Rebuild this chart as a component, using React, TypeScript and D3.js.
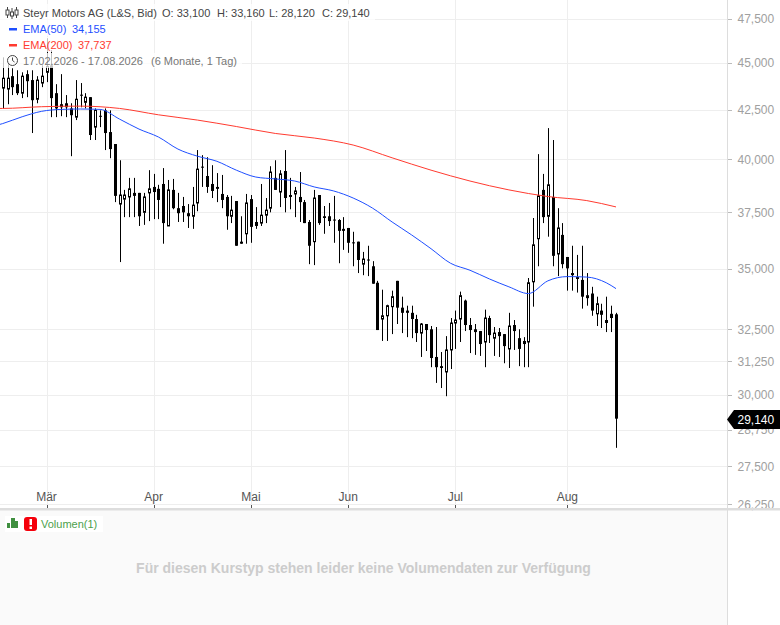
import React, { useEffect, useRef } from 'react';
import * as d3 from 'd3';

// Steyr Motors AG, daily candles 17.02.2026 - 17.08.2026
const opens = [
  43.63, 43.58, 44.27, 43.84, 43.36, 44.38, 44.06, 43.04, 43.9, 44.48,
  44.86, 43.36, 42.78, 42.83, 42.56, 42.11, 43.28, 42.88, 43.15, 41.6,
  42.18, 42.46, 41.35, 40.75, 37.87, 38.1, 38.2, 38.39, 38.39, 37.49,
  38.39, 38.67, 38.58, 38.81, 36.87, 38.53, 37.68, 37.78, 37.45, 37.31,
  37.92, 39.64, 39.19, 38.81, 38.67, 38.34, 38.2, 37.31, 38.01, 36.17,
  36.52, 38.1, 37.05, 37.0, 37.36, 37.68, 39.1, 38.43, 39.43, 38.29,
  38.34, 38.2, 37.96, 37.05, 36.17, 38.29, 37.31, 37.31, 37.16, 37.14,
  36.74, 36.78, 36.14, 36.17, 35.19, 35.39, 35.1, 34.4, 32.91, 33.04,
  33.41, 34.48, 33.37, 33.25, 33.16, 32.91, 32.35, 32.71, 32.5, 31.42,
  31.07, 30.85, 31.69, 32.75, 32.91, 33.66, 32.67, 32.5, 32.43, 32.0,
  32.95, 32.15, 32.39, 32.31, 31.73, 32.67, 32.15, 32.04, 32.0, 34.44,
  36.3, 38.53, 37.31, 38.2, 35.63, 36.47, 35.5, 34.81, 34.64, 34.52,
  33.78, 33.95, 33.12, 33.25, 32.87, 33.12, 33.1,
];
const highs = [
  45.3, 44.96, 44.7, 44.59, 44.48, 44.59, 44.59, 44.27, 44.86, 46.37,
  45.7, 43.84, 44.38, 43.26, 42.83, 44.06, 43.9, 43.36, 43.15, 42.56,
  42.46, 42.56, 42.46, 40.75, 39.95, 38.53, 39.1, 39.1, 38.39, 38.39,
  39.47, 39.29, 38.77, 39.57, 39.0, 39.05, 38.39, 38.2, 37.87, 38.67,
  40.45, 40.2, 40.1, 39.71, 39.33, 39.24, 38.29, 38.25, 38.01, 37.31,
  38.34, 38.29, 37.73, 38.81, 38.15, 39.66, 39.95, 39.47, 40.45, 39.1,
  38.67, 39.38, 38.06, 37.14, 38.53, 38.29, 37.78, 37.92, 38.25, 37.18,
  37.27, 36.78, 36.61, 36.17, 35.72, 35.99, 35.32, 34.48, 34.11, 33.49,
  34.07, 34.48, 33.82, 33.45, 33.45, 33.08, 32.75, 32.71, 32.63, 32.59,
  31.61, 32.23, 32.95, 33.25, 34.03, 33.7, 32.95, 32.71, 32.43, 33.29,
  33.04, 32.59, 32.55, 32.31, 33.16, 32.87, 32.5, 32.19, 34.6, 37.23,
  40.25, 39.29, 41.55, 40.95, 37.68, 37.0, 35.5, 35.99, 35.59, 35.99,
  34.81, 34.23, 33.82, 33.53, 33.82, 33.45, 33.16,
];
const lows = [
  42.56, 42.78, 43.26, 43.26, 43.1, 43.15, 41.3, 42.83, 43.68, 43.95,
  42.11, 42.11, 42.16, 42.11, 40.15, 41.96, 42.62, 42.56, 40.95, 40.95,
  41.6, 40.45, 40.05, 37.96, 35.28, 37.27, 37.27, 37.27, 36.87, 36.92,
  37.09, 37.18, 37.18, 36.08, 36.87, 37.63, 37.05, 37.05, 36.78, 36.74,
  37.54, 38.67, 38.39, 38.15, 37.96, 37.68, 36.7, 37.0, 35.99, 36.08,
  36.08, 36.12, 36.74, 36.87, 37.0, 37.49, 38.53, 37.73, 37.49, 37.63,
  37.27, 37.05, 37.0, 35.19, 35.15, 36.92, 36.52, 36.87, 36.12, 35.23,
  35.81, 35.68, 35.1, 34.81, 34.72, 34.68, 34.36, 32.47, 32.04, 32.04,
  32.31, 32.71, 32.35, 32.19, 32.15, 32.0, 31.42, 31.65, 31.03, 30.44,
  30.25, 29.95, 30.96, 31.73, 32.0, 32.43, 31.57, 31.5, 31.46, 31.03,
  31.96, 31.46, 31.42, 31.18, 31.0, 31.69, 31.07, 31.03, 31.03, 33.41,
  35.1, 37.0, 36.39, 35.1, 34.68, 35.01, 34.07, 34.07, 33.99, 33.33,
  33.45, 33.04, 32.63, 32.55, 32.39, 32.39, 28.12,
];
const closes = [
  44.16, 44.16, 43.68, 43.36, 44.27, 44.0, 42.99, 44.06, 44.27, 44.8,
  43.1, 42.56, 42.62, 42.62, 42.21, 43.04, 43.24, 43.15, 41.2, 42.46,
  42.14, 41.3, 40.5, 38.25, 38.29, 38.29, 38.58, 38.25, 37.31, 38.2,
  38.58, 38.43, 38.06, 37.0, 38.53, 37.68, 37.45, 37.49, 37.31, 37.82,
  39.52, 39.6, 38.67, 38.48, 38.58, 38.06, 37.31, 37.59, 35.99, 36.08,
  37.92, 36.83, 36.87, 37.36, 37.59, 39.38, 38.53, 39.29, 38.15, 38.2,
  38.48, 37.96, 37.0, 35.99, 38.15, 37.0, 37.23, 37.09, 37.12, 36.65,
  36.65, 36.12, 36.1, 35.37, 35.41, 35.35, 34.36, 32.47, 33.04, 33.45,
  33.82, 33.37, 33.16, 33.16, 32.91, 32.35, 32.71, 32.47, 31.38, 31.03,
  31.0, 31.69, 32.75, 32.87, 33.86, 32.67, 32.47, 32.39, 31.92, 32.95,
  32.27, 32.35, 32.23, 31.84, 32.63, 32.43, 31.73, 31.92, 34.4, 36.03,
  38.25, 37.27, 38.77, 35.55, 36.78, 35.19, 35.01, 34.72, 34.56, 33.82,
  33.86, 33.25, 33.53, 33.08, 32.75, 32.95, 29.14,
];

const ema50Sessions = [-1, 0, 4, 8, 12, 16, 20, 24, 28, 32, 36, 40, 44, 48, 52, 56, 60, 64, 68, 72, 76, 80, 84, 88, 92, 96, 100, 104, 108, 112, 116, 120, 124, 126];
const ema50Values = [41.71, 41.78, 42.13, 42.41, 42.51, 42.53, 42.51, 42.01, 41.5, 41.1, 40.5, 40.15, 39.9, 39.47, 39.14, 39.05, 38.95, 38.67, 38.48, 38.15, 37.68, 37.05, 36.47, 35.86, 35.23, 34.93, 34.56, 34.23, 33.95, 34.48, 34.66, 34.64, 34.4, 34.155];
const ema200Sessions = [-1, 0, 8, 16, 24, 32, 40, 48, 56, 64, 72, 80, 88, 96, 104, 112, 120, 126];
const ema200Values = [42.56, 42.56, 42.65, 42.68, 42.56, 42.23, 41.96, 41.63, 41.28, 41.05, 40.7, 40.07, 39.47, 38.95, 38.53, 38.22, 38.03, 37.737];

const priceTicks = [47.5, 45, 42.5, 40, 37.5, 35, 32.5, 31.25, 30, 28.75, 27.5, 26.25];
const monthLabels = ['Mär', 'Apr', 'Mai', 'Jun', 'Jul', 'Aug'];
const monthSessions = [9, 31, 51, 71, 93, 116];

const WIDTH = 780;
const HEIGHT = 625;
const PLOT_RIGHT = 727;
const PANE_BOTTOM = 508;
const FONT = '"Liberation Sans", Arial, sans-serif';
const GRID = '#eeeeee';
const BLUE = '#1f4fff';
const RED = '#ff3b30';

const de = d3.formatLocale({ decimal: ',', thousands: '.', grouping: [3], currency: ['', '€'] });
const fmt = de.format('.3f');

export default function App() {
  const ref = useRef<SVGSVGElement>(null);

  useEffect(() => {
    const { current: dom } = ref;
    if (!dom) {
      return;
    }
    const svg = d3.select(dom);
    svg.selectAll('*').remove();

    const x = d3.scaleLinear().domain([0, 126]).range([2.7, 616]);
    const y = d3.scaleLog().domain([47.5, 26.25]).range([18.5, 504.2]);
    const crisp = (v: number) => Math.round(v) + 0.5;

    svg.append('clipPath').attr('id', 'plot').append('rect')
      .attr('width', PLOT_RIGHT).attr('height', PANE_BOTTOM);

    // lower pane
    svg.append('rect').attr('x', 0).attr('y', PANE_BOTTOM).attr('width', PLOT_RIGHT)
      .attr('height', HEIGHT - PANE_BOTTOM).attr('fill', '#fafafa');

    // grid
    const grid = svg.append('g').attr('stroke', GRID).attr('stroke-width', 1);
    grid.selectAll('line.h').data(priceTicks).join('line').attr('class', 'h')
      .attr('x1', 0).attr('x2', PLOT_RIGHT)
      .attr('y1', (d) => crisp(y(d))).attr('y2', (d) => crisp(y(d)));
    grid.selectAll('line.v').data(monthSessions).join('line').attr('class', 'v')
      .attr('y1', 0).attr('y2', PANE_BOTTOM)
      .attr('x1', (d) => crisp(x(d))).attr('x2', (d) => crisp(x(d)));

    // candles
    const plot = svg.append('g').attr('clip-path', 'url(#plot)');
    const candles = plot.selectAll('g.c').data(d3.range(opens.length)).join('g').attr('class', 'c');
    candles.append('line')
      .attr('x1', (i) => crisp(x(i))).attr('x2', (i) => crisp(x(i)))
      .attr('y1', (i) => y(highs[i])).attr('y2', (i) => y(lows[i]))
      .attr('stroke', '#000');
    candles.append('rect')
      .attr('x', (i) => crisp(x(i)) - (closes[i] < opens[i] ? 1.5 : 1))
      .attr('width', (i) => (closes[i] < opens[i] ? 3 : 2))
      .attr('y', (i) => y(Math.max(opens[i], closes[i])))
      .attr('height', (i) => Math.max(1, Math.abs(y(opens[i]) - y(closes[i]))))
      .attr('fill', (i) => (closes[i] < opens[i] ? '#000' : '#fff'))
      .attr('stroke', (i) => (closes[i] < opens[i] ? 'none' : '#000'));

    // EMAs
    const line = d3.line<number>().x((d) => x(d[0])).y((d) => y(d[1])).curve(d3.curveMonotoneX);
    plot.append('path').datum(d3.zip(ema200Sessions, ema200Values) as any)
      .attr('d', line as any).attr('fill', 'none').attr('stroke', RED).attr('stroke-width', 1);
    plot.append('path').datum(d3.zip(ema50Sessions, ema50Values) as any)
      .attr('d', line as any).attr('fill', 'none').attr('stroke', BLUE).attr('stroke-width', 1);

    // price axis
    svg.append('line').attr('x1', PLOT_RIGHT + 0.5).attr('x2', PLOT_RIGHT + 0.5)
      .attr('y1', 0).attr('y2', HEIGHT).attr('stroke', '#dddddd');
    const yAxis = svg.append('g').attr('font-family', FONT).attr('font-size', 12);
    yAxis.selectAll('line').data(priceTicks).join('line')
      .attr('x1', PLOT_RIGHT + 1).attr('x2', PLOT_RIGHT + 5)
      .attr('y1', (d) => crisp(y(d))).attr('y2', (d) => crisp(y(d)))
      .attr('stroke', '#bbbbbb');
    yAxis.selectAll('text').data(priceTicks).join('text')
      .attr('x', 737.5).attr('y', (d) => y(d) + 4.5)
      .attr('fill', '#a0a0a0')
      .text((d) => fmt(d));

    // time axis
    const xAxis = svg.append('g').attr('font-family', FONT).attr('font-size', 12);
    xAxis.selectAll('text').data(monthSessions).join('text')
      .attr('x', (d) => x(d)).attr('y', 501).attr('text-anchor', 'middle')
      .attr('fill', '#555555')
      .text((_, i) => monthLabels[i]);
    xAxis.selectAll('line').data(monthSessions).join('line')
      .attr('x1', (d) => crisp(x(d))).attr('x2', (d) => crisp(x(d)))
      .attr('y1', 505).attr('y2', PANE_BOTTOM).attr('stroke', '#555555');

    // pane separator
    svg.append('rect').attr('x', 0).attr('y', PANE_BOTTOM).attr('width', WIDTH)
      .attr('height', 2.5).attr('fill', '#dddddd');

    // last price tag
    const lastY = Math.round(y(closes[closes.length - 1])) + 0.5;
    svg.append('path')
      .attr('d', `M${WIDTH},${lastY - 9.5}H734L727,${lastY}L734,${lastY + 9.5}H${WIDTH}Z`)
      .attr('fill', '#000');
    svg.append('text').attr('x', 737.5).attr('y', lastY + 4.5).attr('fill', '#fff')
      .attr('font-family', FONT).attr('font-size', 12)
      .text(fmt(closes[closes.length - 1]));

    // legend
    const legend = svg.append('g').attr('font-family', FONT).attr('font-size', 11);
    [[0, 4, 375, 17], [0, 21, 115, 15], [0, 37, 118, 15], [0, 53, 242, 15]].forEach((r) => {
      legend.append('rect').attr('x', r[0]).attr('y', r[1]).attr('width', r[2]).attr('height', r[3])
        .attr('fill', '#fff').attr('opacity', 0.75);
    });
    const label = (tx: number, ty: number, text: string, color: string) =>
      legend.append('text').attr('x', tx).attr('y', ty).attr('fill', color).text(text);
    const dark = '#444444';
    label(23, 17, 'Steyr Motors AG (L&S, Bid)', dark);
    label(162, 17, `O: ${fmt(opens[126])}`, dark);
    label(217, 17, `H: ${fmt(highs[126])}`, dark);
    label(269, 17, `L: ${fmt(lows[126])}`, dark);
    label(322, 17, `C: ${fmt(closes[126])}`, dark);
    label(23, 33, 'EMA(50)', BLUE);
    label(72, 33, fmt(ema50Values[ema50Values.length - 1]), BLUE);
    label(23, 49, 'EMA(200)', RED);
    label(78, 49, fmt(ema200Values[ema200Values.length - 1]), RED);
    label(23, 65, '17.02.2026 - 17.08.2026', '#777777');
    label(151, 65, '(6 Monate, 1 Tag)', '#777777');
    legend.append('rect').attr('x', 9).attr('y', 28).attr('width', 8).attr('height', 2.5).attr('fill', BLUE);
    legend.append('rect').attr('x', 9).attr('y', 44).attr('width', 8).attr('height', 2.5).attr('fill', RED);

    // small candle icon
    const icon = legend.append('g').attr('stroke', dark).attr('fill', '#fff');
    [[7.5, 7, 18, 10, 15], [12, 8, 19, 12, 16], [16.5, 7, 18, 10, 15]].forEach((c) => {
      icon.append('line').attr('x1', c[0]).attr('x2', c[0]).attr('y1', c[1]).attr('y2', c[2]);
      icon.append('rect').attr('x', c[0] - 1.5).attr('y', c[3]).attr('width', 3).attr('height', c[4] - c[3]);
    });

    // clock icon
    const clock = legend.append('g').attr('stroke', dark).attr('fill', 'none');
    clock.append('circle').attr('cx', 12.5).attr('cy', 60.5).attr('r', 5);
    clock.append('path').attr('d', 'M12.5,57.5V60.5L14.5,62');

    // volume pane
    const vol = svg.append('g').attr('font-family', FONT);
    vol.append('rect').attr('x', 5).attr('y', 516).attr('width', 98).attr('height', 16).attr('fill', '#fff');
    const volBars = [[7, 523, 3], [11, 518, 4], [15, 521, 3]];
    volBars.forEach((b) => {
      vol.append('rect').attr('x', b[0]).attr('y', b[1]).attr('width', b[2]).attr('height', 528 - b[1]).attr('fill', '#3f8f3f');
    });
    vol.append('rect').attr('x', 24).attr('y', 517).attr('width', 13).attr('height', 14).attr('rx', 3).attr('fill', '#f5000b');
    vol.append('rect').attr('x', 29.5).attr('y', 519).attr('width', 2.5).attr('height', 6).attr('fill', '#fff');
    vol.append('rect').attr('x', 29.5).attr('y', 526.5).attr('width', 2.5).attr('height', 2.5).attr('fill', '#fff');
    vol.append('text').attr('x', 41).attr('y', 528).attr('font-size', 11).attr('fill', '#4c9f4c').text('Volumen(1)');
    vol.append('text').attr('x', 363.5).attr('y', 573).attr('text-anchor', 'middle')
      .attr('font-size', 14).attr('font-weight', 'bold').attr('fill', '#cccccc')
      .text('Für diesen Kurstyp stehen leider keine Volumendaten zur Verfügung');
  }, []);

  return (
    <svg
      ref={ref}
      width={WIDTH}
      height={HEIGHT}
      style={{ position: 'absolute', left: 0, top: 0, display: 'block', background: '#fff' }}
    />
  );
}
